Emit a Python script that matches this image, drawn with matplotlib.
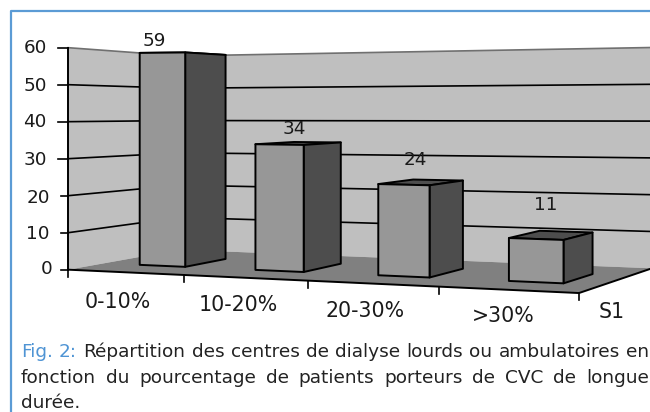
import numpy as np
import matplotlib
matplotlib.use('Agg')
import matplotlib.pyplot as plt
from matplotlib.patches import Polygon

plt.rcParams['font.family'] = ['DejaVu Sans']

# data
categories = ['0-10%', '10-20%', '20-30%', '>30%']
values = [59, 34, 24, 11]
y_ticks = [0, 10, 20, 30, 40, 50, 60]
series_name = 'S1'
caption_head = 'Fig. 2:'
caption_lines = ['Répartition des centres de dialyse lourds ou ambulatoires en',
                 'fonction du pourcentage de patients porteurs de CVC de longue']
caption_last = 'durée.'

# floor of the 3d box: (category, depth) -> pixel, fitted on the chart frame
floor_uw = [(0, 0), (1, 0), (2, 0), (3, 0), (4, 0), (0, 1), (4, 1)]
floor_px = [(68, 269), (185, 275), (307, 281.5), (439, 286.5), (579, 293), (180, 250), (652, 268)]
rows = []
for (u, w), (px, py) in zip(floor_uw, floor_px):
    rows.append([u, w, 1, 0, 0, 0, -px * u, -px * w, -px])
    rows.append([0, 0, 0, u, w, 1, -py * u, -py * w, -py])
H = np.linalg.svd(np.array(rows, float))[2][-1].reshape(3, 3)

# pixels per unit of value at the four floor corners
scale_front = (3.70, 4.10)
scale_back = (3.23, 3.68)


def proj(u, w, h):
    p = H @ np.array([u, w, 1.0])
    f = (1 - w) * np.interp(u, [0, 4], scale_front) + w * np.interp(u, [0, 4], scale_back)
    return p[0] / p[2], p[1] / p[2] - h * f


fig = plt.figure(figsize=(6.5, 4.12), dpi=100)
ax = fig.add_axes([0, 0, 1, 1])
ax.set_xlim(0, 650)
ax.set_ylim(412, 0)
ax.axis('off')

WALL, FLOOR, FRONT, SIDE = '#bfbfbf', '#808080', '#979797', '#4d4d4d'
BLUE = '#5b9bd5'


def face(pts, color, ec='black', lw=1.4, z=2):
    ax.add_patch(Polygon(pts, closed=True, fc=color, ec=ec, lw=lw, joinstyle='round', zorder=z))


# frame of the figure
ax.plot([10.5, 10.5, 650], [412, 11, 11], color=BLUE, lw=1.6, zorder=1)

# walls and floor
top = max(y_ticks)
face([proj(0, 0, 0), proj(0, 1, 0), proj(0, 1, top), proj(0, 0, top)], WALL, ec='none')
face([proj(0, 1, 0), proj(4, 1, 0), proj(4, 1, top), proj(0, 1, top)], WALL, ec='none')
ax.plot(*zip(proj(0, 0, top), proj(0, 1, top), proj(4, 1, top)), color='#707070', lw=1.2, zorder=2)
for t in y_ticks[1:-1]:
    ax.plot(*zip(proj(0, 0, t), proj(0, 1, t), proj(4, 1, t)), color='black', lw=1.2, zorder=2)
face([proj(0, 0, 0), proj(4, 0, 0), proj(4, 1, 0), proj(0, 1, 0)], FLOOR, ec='none')
ax.plot(*zip(proj(0, 0, 0), proj(4, 0, 0), proj(4, 1, 0)), color='black', lw=1.4, zorder=3)
ax.plot(*zip(proj(0, 0, 0), proj(0, 0, top)), color='black', lw=1.4, zorder=3)

# axis ticks
for t in y_ticks:
    x, y = proj(0, 0, t)
    ax.plot([x - (10 if t >= 30 else 7), x], [y, y], color='black', lw=1.2, zorder=3)
for i in range(len(categories) + 1):
    x, y = proj(i, 0, 0)
    ax.plot([x, x], [y, y + 7], color='black', lw=1.2, zorder=3)

# bars
half, shift, w0, w1 = 0.20, 0.02, 0.30, 0.68
for i, v in enumerate(values):
    u0, u1 = i + 0.5 + shift - half, i + 0.5 + shift + half
    face([proj(u0, w0, v), proj(u1, w0, v), proj(u1, w1, v), proj(u0, w1, v)], SIDE, z=4)
    face([proj(u1, w0, 0), proj(u1, w1, 0), proj(u1, w1, v), proj(u1, w0, v)], SIDE, z=5)
    face([proj(u0, w0, 0), proj(u1, w0, 0), proj(u1, w0, v), proj(u0, w0, v)], FRONT, z=5)

# labels
txt = dict(color='#1a1a1a', fontsize=13.2, ha='center', va='center', zorder=6)
tick_pos = [(52, 269), (50, 234), (50, 198), (35, 160), (35, 122), (35, 86), (35, 48)]
for t, (x, y) in zip(y_ticks, tick_pos):
    ax.text(x, y, str(t), **{**txt, 'ha': 'right' if t < 30 else 'center'})
for s, (x, y) in zip(values, [(154, 41), (294, 129), (415, 160), (546, 205)]):
    ax.text(x, y, str(s), **txt)
for s, (x, y) in zip(categories + [series_name], [(118, 302), (238, 305), (365, 311), (503, 316), (612, 312)]):
    ax.text(x, y, s, **{**txt, 'fontsize': 14.8})

# caption, justified up to the right edge
fig.canvas.draw()
rend = fig.canvas.get_renderer()
cap = dict(fontsize=13.3, va='center', color='#222222', zorder=6)


def justified(words, y, x0, x1, colors=None):
    items = [ax.text(0, y, s, **{**cap, 'color': (colors or {}).get(s, cap['color'])}) for s in words]
    widths = [t.get_window_extent(rend).width for t in items]
    gap = (x1 - x0 - sum(widths)) / (len(words) - 1)
    x = x0
    for t, wd in zip(items, widths):
        t.set_x(x)
        x += wd + gap


justified(caption_head.split(' ') + caption_lines[0].split(' '), 352, 21, 649,
          {'Fig.': '#4f94d4', '2:': '#4f94d4'})
justified(caption_lines[1].split(' '), 378, 21, 649)
ax.text(21, 403, caption_last, **cap)

fig.savefig('out.png', dpi=100)
